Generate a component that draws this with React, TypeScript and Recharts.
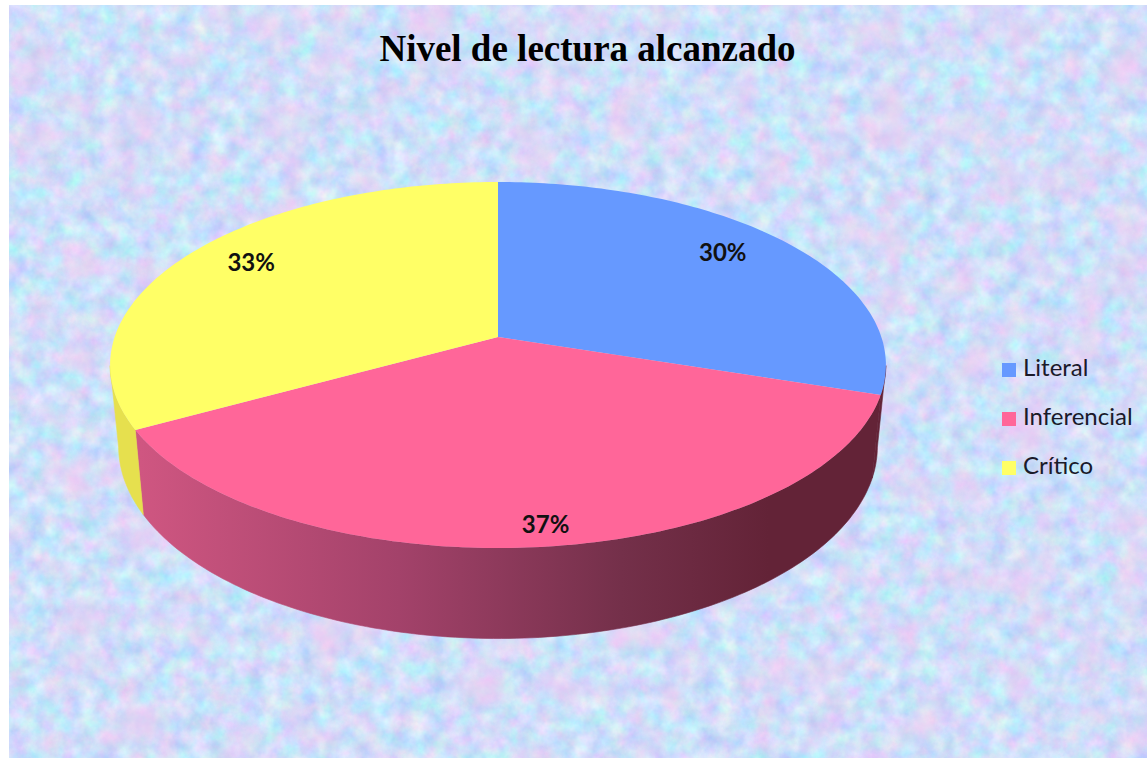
import { PieChart, Pie, Legend } from 'recharts';

const LEVELS = ['Literal', 'Inferencial', 'Crítico'];
const SHARES = [30, 37, 33];
const TOP_COLORS = ['#6699ff', '#ff6699', '#ffff66'];
const WALL_COLORS = ['#632337', 'url(#wallPink)', '#e6e04e'];
// the original labels are not exactly on one radius, small sideways nudge per slice
const LABEL_NUDGE = [0, 14, -5];

const sliceRows = LEVELS.map((name, i) => ({ name, value: SHARES[i], fill: TOP_COLORS[i] }));

// tilt of the disc: the far edge is squeezed, the near edge is stretched
const PERSPECTIVE = 0.153;
const X_SCALE = 0.988;
const Y_SCALE = 0.4606;

// angle is measured clockwise from 12 o'clock, in degrees
function tilted(cx: number, cy: number, radius: number, angle: number) {
  const rad = (angle * Math.PI) / 180;
  const u = Math.sin(rad);
  const v = -Math.cos(rad);
  const w = 1 - PERSPECTIVE * v;
  return { x: cx + (radius * X_SCALE * u) / w, y: cy + (radius * Y_SCALE * v) / w };
}

function rimPoints(cx: number, cy: number, radius: number, from: number, to: number) {
  const points = [];
  const steps = Math.max(2, Math.ceil(Math.abs(to - from)));
  for (let i = 0; i <= steps; i++) {
    points.push(tilted(cx, cy, radius, from + ((to - from) * i) / steps));
  }
  return points;
}

const toPath = (points: { x: number; y: number }[]) =>
  points.map((p, i) => `${i === 0 ? 'M' : 'L'}${p.x.toFixed(1)},${p.y.toFixed(1)}`).join(' ') + ' Z';

function TopFace(props: any) {
  const { cx, cy, outerRadius, startAngle, endAngle, fill } = props;
  const rim = rimPoints(cx, cy, outerRadius, 90 - startAngle, 90 - endAngle);
  return <path d={toPath([{ x: cx, y: cy }, ...rim])} fill={fill} />;
}

const FRONT_FROM = 99;
const FRONT_TO = 261;

function WallFace(props: any) {
  const { cx, cy, outerRadius, startAngle, endAngle, name } = props;
  const from = Math.max(90 - startAngle, FRONT_FROM);
  const to = Math.min(90 - endAngle, FRONT_TO);
  if (to <= from) return <g />;
  const upper = rimPoints(cx, cy, outerRadius, from, to);
  const lower = rimPoints(cx, cy, outerRadius, from, to)
    .reverse()
    .map((p) => ({
      x: cx + (p.x - cx) * 0.978,
      y: cy + (p.y - cy) * 1.05 + 80,
    }));
  const color = WALL_COLORS[LEVELS.indexOf(name)];
  return <path d={toPath([...upper, ...lower])} fill={color} stroke={color} strokeWidth={0.6} />;
}

function SliceLabel(props: any) {
  const { cx, cy, outerRadius, midAngle, percent, index } = props;
  const across = tilted(cx, cy, outerRadius * 0.79, 90 - midAngle);
  const down = tilted(cx, cy, outerRadius * 0.89, 90 - midAngle);
  return (
    <text
      x={across.x + LABEL_NUDGE[index]}
      y={down.y}
      textAnchor="middle"
      dominantBaseline="central"
      fontFamily="Lato, sans-serif"
      fontWeight={700}
      fontSize={24}
      fill="#111"
    >
      {`${Math.round(percent * 100)}%`}
    </text>
  );
}

export default function App() {
  return (
    <div style={{ position: 'absolute', left: 0, top: 0, width: 1147, height: 758, background: '#fff', overflow: 'hidden' }}>
      <svg width={1138} height={753} style={{ position: 'absolute', left: 9, top: 5 }}>
        <defs>
          <filter id="mottle" x="0" y="0" width="100%" height="100%" colorInterpolationFilters="sRGB">
            <feTurbulence type="fractalNoise" baseFrequency="0.055" numOctaves={4} seed={7} />
            <feColorMatrix
              type="matrix"
              values="0.36 0 0 0 0.62  0 0.26 0 0 0.75  0 0 0.1 0 0.93  0 0 0 0 1"
            />
          </filter>
          <filter id="blotches" x="0" y="0" width="100%" height="100%" colorInterpolationFilters="sRGB">
            <feTurbulence type="fractalNoise" baseFrequency="0.02" numOctaves={2} seed={23} />
            <feColorMatrix
              type="matrix"
              values="0 0 0 0 0.96  0 0 0 0 0.78  0 0 0 0 0.94  3 0 0 0 -1.4"
            />
          </filter>
        </defs>
        <rect width={1138} height={753} filter="url(#mottle)" />
        <rect width={1138} height={753} filter="url(#blotches)" opacity={0.55} />
      </svg>
      <div
        style={{
          position: 'absolute',
          left: 0,
          top: 29,
          width: 1175,
          textAlign: 'center',
          fontFamily: '"Liberation Serif", serif',
          fontWeight: 700,
          fontSize: 37,
          lineHeight: '40px',
          color: '#000',
        }}
      >
        Nivel de lectura alcanzado
      </div>
      <div style={{ position: 'absolute', left: 0, top: 0 }}>
        <PieChart width={1147} height={758} margin={{ top: 0, right: 0, bottom: 0, left: 0 }}>
          <defs>
            <linearGradient id="wallPink" gradientUnits="userSpaceOnUse" x1={140} y1={0} x2={880} y2={0}>
              <stop offset="0%" stopColor="#cf5681" />
              <stop offset="35%" stopColor="#a3426a" />
              <stop offset="65%" stopColor="#74304a" />
              <stop offset="85%" stopColor="#632337" />
              <stop offset="100%" stopColor="#632337" />
            </linearGradient>
          </defs>
          <Pie
            data={sliceRows}
            dataKey="value"
            nameKey="name"
            cx={498}
            cy={337}
            outerRadius={388}
            startAngle={90}
            endAngle={-270}
            stroke="none"
            legendType="none"
            isAnimationActive={false}
            shape={WallFace}
            inactiveShape={WallFace}
          />
          <Pie
            data={sliceRows}
            dataKey="value"
            nameKey="name"
            cx={498}
            cy={337}
            outerRadius={388}
            startAngle={90}
            endAngle={-270}
            stroke="none"
            isAnimationActive={false}
            shape={TopFace}
            inactiveShape={TopFace}
            label={SliceLabel}
            labelLine={false}
          />
          <Legend
            layout="vertical"
            align="right"
            verticalAlign="top"
            iconType="square"
            iconSize={14}
            itemSorter={null}
            formatter={(value: string) => <span style={{ color: '#1a1a2a', marginLeft: 3 }}>{value}</span>}
            wrapperStyle={{
              left: 1002,
              top: 342,
              right: 'auto',
              width: 145,
              whiteSpace: 'nowrap',
              fontFamily: 'Lato, sans-serif',
              fontSize: 24,
              lineHeight: '49px',
            }}
          />
        </PieChart>
      </div>
    </div>
  );
}
